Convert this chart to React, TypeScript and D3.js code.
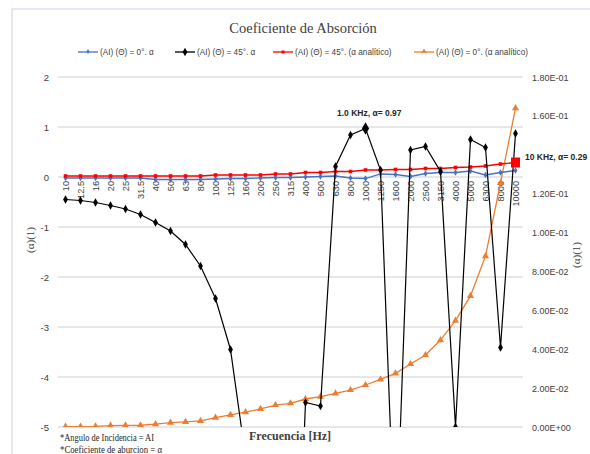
import React from "react";
import * as d3 from "d3";

const categories = ["10", "12.5", "16", "20", "25", "31.5", "40", "50", "63", "80", "100", "125", "160", "200", "250", "315", "400", "500", "630", "800", "1000", "1250", "1600", "2000", "2500", "3150", "4000", "5000", "6300", "8000", "10000"];

// (AI)(Θ)=0°. α  -> left axis
const blue0 = [-0.02, -0.02, -0.02, -0.02, -0.02, -0.02, -0.05, -0.05, -0.05, -0.05, -0.04, -0.03, -0.03, -0.02, -0.01, -0.01, 0.0, 0.01, 0.02, -0.02, -0.03, 0.06, 0.05, 0.01, 0.07, 0.09, 0.09, 0.12, 0.04, 0.09, 0.13];
// (AI)(Θ)=45°. α -> left axis
const black45 = [-0.45, -0.47, -0.51, -0.57, -0.64, -0.75, -0.91, -1.08, -1.35, -1.78, -2.43, -3.45, -5.6, -9, -10, -12, -4.51, -4.58, 0.21, 0.84, 0.97, 0.14, -7.7, 0.54, 0.61, 0.11, -5.0, 0.75, 0.59, -3.41, 0.87];
// (AI)(Θ)=45°. (α analítico) -> left axis
const red45 = [0.02, 0.02, 0.02, 0.02, 0.02, 0.02, 0.02, 0.02, 0.02, 0.02, 0.04, 0.04, 0.04, 0.04, 0.06, 0.06, 0.09, 0.09, 0.11, 0.11, 0.14, 0.14, 0.15, 0.15, 0.17, 0.17, 0.19, 0.2, 0.22, 0.26, 0.29];
// (AI)(Θ)=0°. (α analítico) -> right axis
const orange0 = [0.0002, 0.0002, 0.0003, 0.0007, 0.0008, 0.0009, 0.0015, 0.0022, 0.0026, 0.0031, 0.0048, 0.0062, 0.0076, 0.0093, 0.0113, 0.0122, 0.0144, 0.0156, 0.0173, 0.019, 0.0216, 0.0245, 0.0276, 0.0324, 0.037, 0.0447, 0.0547, 0.0674, 0.0879, 0.1255, 0.164];

const leftTicks = [2, 1, 0, -1, -2, -3, -4, -5];
// 1.40E-01 is hidden under the 10 KHz label in the original
const rightTicks = [0, 0.02, 0.04, 0.06, 0.08, 0.1, 0.12, 0.16, 0.18];

const legendItems = [
  { label: "(AI) (Θ) = 0°. α", color: "#4472C4", x: 78 },
  { label: "(AI) (Θ) = 45°. α", color: "#000000", x: 175 },
  { label: "(AI) (Θ) = 45°. (α analítico)", color: "#FF0000", x: 273 },
  { label: "(AI) (Θ) = 0°. (α analítico)", color: "#ED7D31", x: 414 },
];

const W = 590;
const H = 454;
const plot = { left: 58, right: 523, top: 77, bottom: 427 };

export default function App() {
  const x = d3.scaleBand<string>().domain(categories).range([plot.left, plot.right]);
  const cx = (c: string) => (x(c) as number) + x.bandwidth() / 2;
  const yL = d3.scaleLinear().domain([-5, 2]).range([plot.bottom, plot.top]);
  const yR = d3.scaleLinear().domain([0, 0.18]).range([plot.bottom, plot.top]);

  const lineL = d3.line<number>().x((d, i) => cx(categories[i])).y((d) => yL(d));
  const lineR = d3.line<number>().x((d, i) => cx(categories[i])).y((d) => yR(d));

  const sans = "'Liberation Sans', Arial, sans-serif";
  const serif = "'Liberation Serif', 'Times New Roman', serif";
  const tri = d3.symbol().type(d3.symbolTriangle).size(22)() as string;
  const diamond = d3.symbol().type(d3.symbolDiamond).size(20)() as string;

  const i1000 = categories.indexOf("1000");
  const i10000 = categories.indexOf("10000");

  return (
    <svg width={W} height={H} style={{ position: "absolute", left: 0, top: 0, background: "#fff" }}>
      <defs>
        <clipPath id="plotClip">
          <rect x={plot.left} y={plot.top - 1} width={plot.right - plot.left} height={plot.bottom - plot.top + 1} />
        </clipPath>
      </defs>
      <rect x={12} y={9} width={600} height={460} fill="none" stroke="#d3d7ee" strokeWidth={1.2} />

      <text x={303} y={33} textAnchor="middle" fontFamily={serif} fontSize={14.5} fill="#404040">
        Coeficiente de Absorción
      </text>

      {legendItems.map((it, k) => (
        <g key={k}>
          <line x1={it.x} x2={it.x + 20} y1={52} y2={52} stroke={it.color} strokeWidth={1.3} />
          {k === 0 && <path d={diamond} transform={`translate(${it.x + 10},51.5) scale(0.6)`} fill={it.color} />}
          {k === 1 && <path d={diamond} transform={`translate(${it.x + 10},52)`} fill={it.color} />}
          {k === 2 && <rect x={it.x + 8.5} y={50.5} width={3} height={3} fill={it.color} />}
          {k === 3 && <path d={tri} transform={`translate(${it.x + 10},51.5) scale(0.7)`} fill={it.color} />}
          <text x={it.x + 22} y={55} fontFamily={sans} fontSize={8.2} fill="#404040">
            {it.label}
          </text>
        </g>
      ))}

      {leftTicks.map((t) => (
        <g key={t}>
          <line x1={plot.left} x2={plot.right} y1={yL(t)} y2={yL(t)} stroke="#d0d0d0" strokeWidth={1.2} />
          <text x={49} y={yL(t) + 3.5} textAnchor="end" fontFamily={sans} fontSize={9.5} fill="#404040">
            {t}
          </text>
        </g>
      ))}

      {rightTicks.map((t) => (
        <text key={t} x={532} y={yR(t) + 3.5} fontFamily={sans} fontSize={9} fill="#404040">
          {t.toExponential(2).replace(/e([+-])(\d)$/, "E$10$2").toUpperCase()}
        </text>
      ))}

      {categories.map((c) => (
        <text key={c} transform={`translate(${cx(c) + 3.5},181) rotate(-90)`} textAnchor="end" fontFamily={sans} fontSize={9.2} fill="#404040">
          {c}
        </text>
      ))}

      <text transform="translate(34,240) rotate(-90)" textAnchor="middle" fontFamily={serif} fontSize={11} fill="#404040">
        (α)(1)
      </text>
      <text transform="translate(580,255) rotate(-90)" textAnchor="middle" fontFamily={serif} fontSize={11} fill="#404040">
        (α)(1)
      </text>
      <text x={290} y={440} textAnchor="middle" fontFamily={serif} fontWeight="bold" fontSize={12} fill="#404040">
        Frecuencia [Hz]
      </text>

      <g clipPath="url(#plotClip)">
        <path d={lineR(orange0) as string} fill="none" stroke="#ED7D31" strokeWidth={1.3} />
        {orange0.map((v, i) => (
          <path key={i} d={tri} transform={`translate(${cx(categories[i])},${yR(v)})`} fill="#ED7D31" />
        ))}
        <path d={lineL(blue0) as string} fill="none" stroke="#4472C4" strokeWidth={1.3} />
        {blue0.map((v, i) => (
          <path key={i} d={diamond} transform={`translate(${cx(categories[i])},${yL(v)}) scale(0.8)`} fill="#4472C4" />
        ))}
        <path d={lineL(red45) as string} fill="none" stroke="#FF0000" strokeWidth={1.3} />
        {red45.map((v, i) =>
          i === i10000 ? null : <rect key={i} x={cx(categories[i]) - 1.8} y={yL(v) - 1.8} width={3.6} height={3.6} fill="#FF0000" />
        )}
        <path d={lineL(black45) as string} fill="none" stroke="#000" strokeWidth={1.2} />
        {black45.map((v, i) => (
          <path key={i} d={diamond} transform={`translate(${cx(categories[i])},${yL(v)}) scale(${i === i1000 ? 1.5 : 1})`} fill="#000" />
        ))}
      </g>
      <rect x={cx("10000") - 4.5} y={yL(red45[i10000]) - 5} width={9} height={10} fill="#FF0000" />

      <text x={337} y={116} fontFamily={sans} fontWeight="bold" fontSize={8.5} fill="#262626">
        1.0 KHz,  α= 0.97
      </text>
      <text x={525} y={160} fontFamily={sans} fontWeight="bold" fontSize={8.5} fill="#262626">
        10 KHz,  α= 0.29
      </text>

      <text x={60} y={441} fontFamily={serif} fontSize={11} fill="#262626" textLength={94} lengthAdjust="spacingAndGlyphs">
        *Angulo de Incidencia = AI
      </text>
      <text x={60} y={453} fontFamily={serif} fontSize={11} fill="#262626" textLength={102} lengthAdjust="spacingAndGlyphs">
        *Coeficiente de aburcion = α
      </text>
    </svg>
  );
}
